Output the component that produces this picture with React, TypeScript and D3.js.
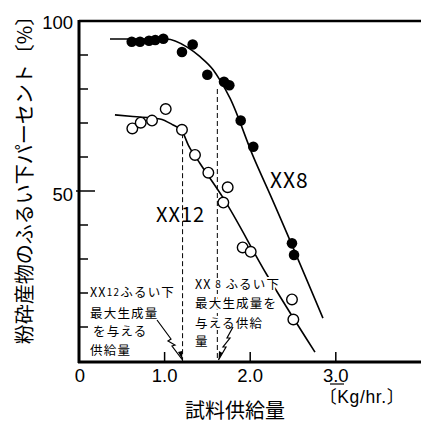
import React from "react";
import * as d3 from "d3";

// XX8 measured points (filled)
const xx8X = [0.616, 0.713, 0.818, 0.891, 0.985, 1.203, 1.328, 1.499, 1.694, 1.756, 1.889, 2.036, 2.488, 2.512];
const xx8Y = [93.9, 93.9, 94.2, 94.4, 94.8, 90.9, 93.1, 84.2, 82.1, 81.1, 70.7, 63.0, 34.6, 31.2];
// XX12 measured points (open)
const xx12X = [0.623, 0.721, 0.853, 1.013, 1.203, 1.355, 1.511, 1.737, 1.686, 1.912, 2.006, 2.488, 2.504];
const xx12Y = [68.4, 70.1, 70.7, 74.1, 68.0, 60.6, 55.4, 51.1, 46.6, 33.4, 32.1, 18.1, 12.2];
// fitted curves
const xx8CurveX = [0.362, 1.025, 1.258, 1.414, 1.569, 1.647, 1.764, 2.036, 2.251, 2.85];
const xx8CurveY = [94.7, 94.7, 92.4, 89.5, 85.6, 82.6, 77.3, 60.1, 47.9, 12.6];
const xx12CurveX = [0.42, 0.63, 0.946, 1.1, 1.2, 1.277, 1.414, 1.686, 2.196, 2.757];
const xx12CurveY = [72.4, 71.9, 71.2, 69.4, 67.8, 63.5, 58.1, 47.9, 25.3, 2.6];
// max-production feed rates
const maxFeedX = [1.21, 1.616];
const maxFeedTop = [67, 80];
// ticks
const yTicks = [10, 20, 30, 40, 50, 60, 70, 80, 90];
const yLabels = [100, 50];
const xTicks = [1, 2, 3];
const xLabels = ["0", "1.0", "2.0", "3.0"];
const xLabelVals = [0, 1, 2, 3];

const FONT = "'Noto Sans CJK JP', 'Noto Sans', sans-serif";
const NUMFONT = "'Liberation Sans', 'Noto Sans CJK JP', sans-serif";

export default function App() {
  const x = d3.scaleLinear().domain([0, 4]).range([79, 421.4]);
  const y = d3.scaleLinear().domain([0, 100]).range([361, 21]);
  const line = d3
    .line<[number, number]>()
    .x((d) => x(d[0]))
    .y((d) => y(d[1]))
    .curve(d3.curveMonotoneX);
  const c8 = xx8CurveX.map((v, i) => [v, xx8CurveY[i]] as [number, number]);
  const c12 = xx12CurveX.map((v, i) => [v, xx12CurveY[i]] as [number, number]);
  const halo = { stroke: "#fff", strokeWidth: 4, paintOrder: "stroke" as const };

  return (
    <svg
      width={421}
      height={422}
      style={{ position: "absolute", left: 0, top: 0, background: "#fff" }}
      fontFamily={FONT}
    >
      <rect width={421} height={422} fill="#fff" />
      {/* dashed verticals */}
      {maxFeedX.map((v, i) => (
        <line
          key={"d" + i}
          x1={x(v)}
          x2={x(v)}
          y1={y(maxFeedTop[i])}
          y2={y(0)}
          stroke="#000"
          strokeWidth={1}
          strokeDasharray="5,3"
        />
      ))}
      {/* curves */}
      <path d={line(c8) || ""} fill="none" stroke="#000" strokeWidth={1.6} />
      <path d={line(c12) || ""} fill="none" stroke="#000" strokeWidth={1.6} />
      {/* points */}
      {xx8X.map((v, i) => (
        <circle key={"b" + i} cx={x(v)} cy={y(xx8Y[i])} r={5.3} fill="#000" />
      ))}
      {xx12X.map((v, i) => (
        <circle
          key={"o" + i}
          cx={x(v)}
          cy={y(xx12Y[i])}
          r={5.3}
          fill="#fff"
          stroke="#000"
          strokeWidth={1.4}
        />
      ))}
      {/* axes frame */}
      <line x1={79} x2={421} y1={21} y2={21} stroke="#000" strokeWidth={2.5} />
      <line x1={79} x2={79} y1={20} y2={363} stroke="#000" strokeWidth={3} />
      <line x1={78} x2={421} y1={362} y2={362} stroke="#000" strokeWidth={3} />
      {yTicks.map((t) => (
        <line
          key={"yt" + t}
          x1={t === 50 ? 76 : 79}
          x2={t === 50 ? 95 : 88}
          y1={y(t)}
          y2={y(t)}
          stroke="#000"
          strokeWidth={1.5}
        />
      ))}
      {xTicks.map((t) => (
        <line key={"xt" + t} x1={x(t)} x2={x(t)} y1={361} y2={352} stroke="#000" strokeWidth={1.5} />
      ))}
      {yLabels.map((t) => (
        <text
          key={"yl" + t}
          x={73}
          y={y(t) + (t === 50 ? 3 : 1)}
          textAnchor="end"
          dominantBaseline="central"
          fontSize={18.5}
          fontFamily={NUMFONT}
        >
          {t}
        </text>
      ))}
      {xLabels.map((t, i) => (
        <text
          key={"xl" + i}
          x={x(xLabelVals[i]) + (i === 0 ? 1 : 0)}
          y={375}
          textAnchor="middle"
          dominantBaseline="central"
          fontSize={18.5}
          fontFamily={NUMFONT}
        >
          {t}
        </text>
      ))}
      <line x1={330} x2={344} y1={384} y2={384} stroke="#000" strokeWidth={1.2} />
      <text
        x={362}
        y={397}
        textAnchor="middle"
        dominantBaseline="central"
        fontSize={17.5}
        letterSpacing={0.6}
        fontFamily={NUMFONT}
      >
        〔Kg/hr.〕
      </text>
      <text x={235} y={409} textAnchor="middle" dominantBaseline="central" fontSize={20}>
        試料供給量
      </text>
      <text
        transform="translate(23,175) rotate(-90)"
        textAnchor="middle"
        dominantBaseline="central"
        fontSize={20}
      >
        粉砕産物のふるい下パーセント〔%〕
      </text>
      {/* series labels */}
      <text x={270} y={179} dominantBaseline="central" fontSize={21} letterSpacing={1}>
        XX8
      </text>
      <text x={156} y={213} dominantBaseline="central" fontSize={20} letterSpacing={1}>
        XX12
      </text>
      {/* annotations */}
      <g fontSize={12.5} letterSpacing={1.2}>
        <text x={90} y={291} dominantBaseline="central" {...halo}>
          XX<tspan fontSize={10}>12</tspan>ふるい下
        </text>
        <text x={90} y={312} dominantBaseline="central" {...halo}>
          最大生成量
        </text>
        <text x={93} y={330} dominantBaseline="central" {...halo}>
          を与える
        </text>
        <text x={90} y={349} dominantBaseline="central" {...halo}>
          供給量
        </text>
        <text x={195} y={283} dominantBaseline="central" {...halo}>
          XX<tspan fontSize={10}> 8 </tspan>ふるい下
        </text>
        <text x={195} y={302} dominantBaseline="central" {...halo}>
          最大生成量を
        </text>
        <text x={195} y={322} dominantBaseline="central" {...halo}>
          与える供給
        </text>
        <text x={195} y={340} dominantBaseline="central" {...halo}>
          量
        </text>
      </g>
      {/* arrows with zigzag */}
      <polyline
        points="157,320 171,339 168,341 175,345 172,346 182.5,360"
        fill="none"
        stroke="#000"
        strokeWidth={1.2}
      />
      <polygon points="182.5,360 178,352 182,351" fill="#000" />
      <polyline
        points="233,327 227,338 230,338 223,347 226,347 218.5,360"
        fill="none"
        stroke="#000"
        strokeWidth={1.2}
      />
      <polygon points="218.5,360 219,351 222.5,353" fill="#000" />
    </svg>
  );
}
